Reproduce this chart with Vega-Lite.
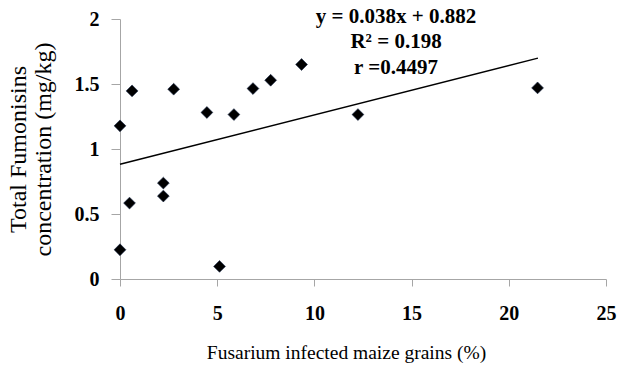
{
  "$schema": "https://vega.github.io/schema/vega-lite/v6.json",
  "width": 486,
  "height": 260,
  "autosize": "none",
  "padding": {"left": 120, "top": 19, "right": 11, "bottom": 89},
  "background": "white",
  "config": {
    "view": {"stroke": null},
    "font": "Liberation Serif"
  },
  "datasets": {
    "points": [
      {"infected": 0, "fumonisins": 1.178},
      {"infected": 0, "fumonisins": 0.225},
      {"infected": 0.49, "fumonisins": 0.584},
      {"infected": 0.62, "fumonisins": 1.447},
      {"infected": 2.23, "fumonisins": 0.738},
      {"infected": 2.23, "fumonisins": 0.638},
      {"infected": 2.76, "fumonisins": 1.46},
      {"infected": 4.47, "fumonisins": 1.281},
      {"infected": 5.12, "fumonisins": 0.097},
      {"infected": 5.86, "fumonisins": 1.265},
      {"infected": 6.84, "fumonisins": 1.465},
      {"infected": 7.75, "fumonisins": 1.529},
      {"infected": 9.34, "fumonisins": 1.65},
      {"infected": 12.24, "fumonisins": 1.265},
      {"infected": 21.48, "fumonisins": 1.47}
    ],
    "trend": [
      {"infected": 0, "fumonisins": 0.882},
      {"infected": 21.5, "fumonisins": 1.699}
    ],
    "notes": [
      {"infected": 14.2, "fumonisins": 2.016, "label": "y = 0.038x + 0.882"},
      {"infected": 14.2, "fumonisins": 1.824, "label": "R² = 0.198"},
      {"infected": 14.2, "fumonisins": 1.62, "label": "r =0.4497"}
    ]
  },
  "layer": [
    {
      "data": {"name": "points"},
      "mark": {"type": "point", "shape": "diamond", "filled": true, "color": "black", "stroke": "#1a2a4a", "strokeWidth": 0.6, "opacity": 1, "size": 140},
      "encoding": {
        "x": {
          "field": "infected", "type": "quantitative",
          "scale": {"domain": [0, 25], "nice": false, "zero": false},
          "axis": {
            "title": "Fusarium infected maize grains (%)",
            "values": [0, 5, 10, 15, 20, 25],
            "format": "~g",
            "grid": false,
            "domainColor": "#a6a6a6",
            "tickColor": "#a6a6a6",
            "tickSize": 7,
            "labelFont": "Liberation Serif",
            "labelFontSize": 20,
            "labelFontWeight": "bold",
            "labelColor": "black",
            "labelPadding": 17,
            "labelFlush": false,
            "titleFont": "Liberation Serif",
            "titleFontSize": 19.5,
            "titleFontWeight": "normal",
            "titleColor": "black",
            "titlePadding": 20,
            "titleX": 226
          }
        },
        "y": {
          "field": "fumonisins", "type": "quantitative",
          "scale": {"domain": [0, 2], "nice": false},
          "axis": {
            "title": ["Total Fumonisins", "concentration (mg/kg)"],
            "values": [0, 0.5, 1, 1.5, 2],
            "format": "~g",
            "grid": false,
            "domainColor": "#a6a6a6",
            "tickColor": "#a6a6a6",
            "tickSize": 9,
            "labelFont": "Liberation Serif",
            "labelFontSize": 20,
            "labelFontWeight": "bold",
            "labelColor": "black",
            "labelPadding": 12,
            "labelFlush": false,
            "titleFont": "Liberation Serif",
            "titleFontSize": 24,
            "titleFontWeight": "normal",
            "titleColor": "black",
            "titleLineHeight": 25,
            "titlePadding": 19
          }
        }
      }
    },
    {
      "data": {"name": "trend"},
      "mark": {"type": "line", "color": "black", "strokeWidth": 1.5},
      "encoding": {
        "x": {"field": "infected", "type": "quantitative"},
        "y": {"field": "fumonisins", "type": "quantitative"}
      }
    },
    {
      "data": {"name": "notes"},
      "mark": {"type": "text", "font": "Liberation Serif", "fontSize": 21, "fontWeight": "bold", "color": "black", "align": "center", "baseline": "middle"},
      "encoding": {
        "x": {"field": "infected", "type": "quantitative"},
        "y": {"field": "fumonisins", "type": "quantitative"},
        "text": {"field": "label"}
      }
    }
  ]
}
